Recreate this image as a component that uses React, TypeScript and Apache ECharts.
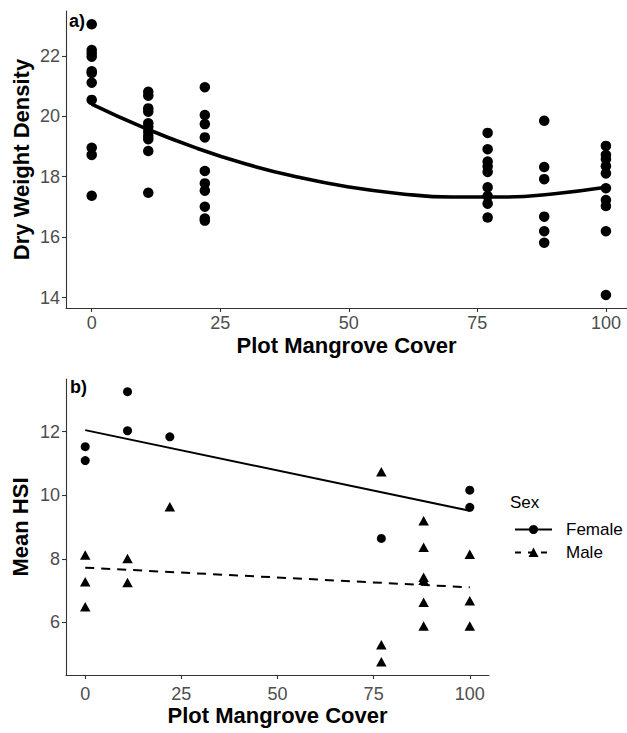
import React, { useEffect, useRef } from "react";
import * as echarts from "echarts";

// ---- data ----
const xTicks = [0, 25, 50, 75, 100];
const dwTicks = [14, 16, 18, 20, 22];
const hsiTicks = [6, 8, 10, 12];

const coverLevels = [0, 11, 22, 77, 88, 100];
const dw0 = [23.04, 22.19, 22.08, 21.97, 21.49, 21.43, 21.11, 20.54, 18.96, 18.72, 17.37];
const dw11 = [20.81, 20.68, 20.26, 20.15, 19.77, 19.65, 19.49, 19.35, 19.24, 18.85, 17.47];
const dw22 = [20.96, 20.04, 19.74, 19.3, 18.19, 17.78, 17.54, 17.01, 16.62, 16.55];
const dw77 = [19.45, 18.91, 18.5, 18.34, 18.16, 17.65, 17.36, 17.11, 16.65];
const dw88 = [19.85, 18.32, 17.92, 16.68, 16.2, 15.82];
const dw100 = [19.02, 18.72, 18.58, 18.35, 18.11, 17.62, 17.23, 17.03, 16.2, 14.09];

const dwCurveX = [0, 10, 20, 30, 40, 50, 60, 70, 80, 90, 100];
const dwCurveY = [20.4, 19.63, 18.97, 18.42, 17.99, 17.66, 17.44, 17.33, 17.33, 17.44, 17.65];

const femaleX = [0, 0, 11, 11, 22, 77, 100, 100];
const femaleY = [11.53, 11.09, 13.26, 12.03, 11.84, 8.64, 10.16, 9.62];
const maleX = [0, 0, 0, 11, 11, 22, 77, 77, 77, 88, 88, 88, 88, 88, 88, 100, 100, 100];
const maleY = [8.12, 7.28, 6.49, 8.01, 7.25, 9.64, 10.74, 5.29, 4.76, 9.2, 8.36, 7.42, 7.32, 6.63, 5.88, 8.14, 6.68, 5.88];

const femaleFitX = [0, 100];
const femaleFitY = [12.05, 9.51];
const maleFitX = [0, 100];
const maleFitY = [7.72, 7.1];

const FONT = "Liberation Sans, Arial, sans-serif";

const dwGroups = [dw0, dw11, dw22, dw77, dw88, dw100];
const dwPoints: number[][] = [];
dwGroups.forEach((g, i) => g.forEach((v) => dwPoints.push([coverLevels[i], v])));
const zip = (xs: number[], ys: number[]) => xs.map((x, i) => [x, ys[i]]);

function axisCommon(ticks: number[], margin: number) {
  return {
    type: "value" as const,
    splitLine: { show: false },
    axisLine: { show: true, onZero: false, lineStyle: { color: "#333", width: 1.1 } },
    axisTick: { show: true, length: 4, customValues: ticks, lineStyle: { color: "#333", width: 1.1 } },
    axisLabel: { customValues: ticks, color: "#4D4D4D", fontSize: 18, fontFamily: FONT, margin },
  };
}

const nameStyle = { fontSize: 22, fontWeight: "bold" as const, color: "#000", fontFamily: FONT };

export default function App() {
  const ref = useRef<HTMLDivElement>(null);
  useEffect(() => {
    if (!ref.current) return;
    const chart = echarts.init(ref.current, undefined, { renderer: "svg" });
    chart.setOption({
      animation: false,
      backgroundColor: "#fff",
      grid: [
        { left: 66, top: 11, width: 561, height: 297 },
        { left: 66, top: 379, width: 423, height: 296 },
      ],
      xAxis: [
        { ...axisCommon(xTicks, 6), gridIndex: 0, min: -5, max: 104.1, name: "Plot Mangrove Cover", nameLocation: "middle", nameGap: 26, nameTextStyle: nameStyle },
        { ...axisCommon(xTicks, 10), gridIndex: 1, min: -5, max: 105, name: "Plot Mangrove Cover", nameLocation: "middle", nameGap: 29, nameTextStyle: nameStyle },
      ],
      yAxis: [
        { ...axisCommon(dwTicks, 6), gridIndex: 0, min: 13.66, max: 23.48, name: "Dry Weight Density", nameLocation: "middle", nameGap: 34, nameMoveOverlap: false, nameTextStyle: nameStyle },
        { ...axisCommon(hsiTicks, 6), gridIndex: 1, min: 4.34, max: 13.66, name: "Mean HSI", nameLocation: "middle", nameGap: 35, nameMoveOverlap: false, nameTextStyle: nameStyle },
      ],
      series: [
        {
          type: "scatter", xAxisIndex: 0, yAxisIndex: 0, data: dwPoints,
          symbol: "circle", symbolSize: 10.5, itemStyle: { color: "#000", opacity: 1 }, z: 3,
        },
        {
          type: "line", xAxisIndex: 0, yAxisIndex: 0, data: zip(dwCurveX, dwCurveY),
          smooth: true, showSymbol: false, symbol: "none", lineStyle: { color: "#000", width: 3.6 }, z: 2,
        },
        {
          type: "scatter", xAxisIndex: 1, yAxisIndex: 1, data: zip(femaleX, femaleY),
          symbol: "circle", symbolSize: 9, itemStyle: { color: "#000", opacity: 1 }, z: 3,
        },
        {
          type: "scatter", xAxisIndex: 1, yAxisIndex: 1, data: zip(maleX, maleY),
          symbol: "triangle", symbolSize: [10.5, 9.5], itemStyle: { color: "#000", opacity: 1 }, z: 3,
        },
        {
          type: "line", xAxisIndex: 1, yAxisIndex: 1, data: zip(femaleFitX, femaleFitY),
          showSymbol: false, symbol: "none", lineStyle: { color: "#000", width: 2 }, z: 2,
        },
        {
          type: "line", xAxisIndex: 1, yAxisIndex: 1, data: zip(maleFitX, maleFitY),
          showSymbol: false, symbol: "none", lineStyle: { color: "#000", width: 2, type: [9, 7] }, z: 2,
        },
      ],
      graphic: [
        { type: "text", left: 69, top: 12, style: { text: "a)", font: `bold 18px ${FONT}`, fill: "#000" } },
        { type: "text", left: 70, top: 378, style: { text: "b)", font: `bold 18px ${FONT}`, fill: "#000" } },
        { type: "text", x: 510, y: 502, style: { text: "Sex", font: `17px ${FONT}`, fill: "#000", verticalAlign: "middle" } },
        { type: "line", shape: { x1: 515, y1: 529.5, x2: 552, y2: 529.5 }, style: { stroke: "#000", lineWidth: 2 } },
        { type: "circle", shape: { cx: 533.5, cy: 529.5, r: 4.5 }, style: { fill: "#000" } },
        { type: "text", x: 566, y: 529.5, style: { text: "Female", font: `17px ${FONT}`, fill: "#000", verticalAlign: "middle" } },
        { type: "line", shape: { x1: 515, y1: 552.5, x2: 552, y2: 552.5 }, style: { stroke: "#000", lineWidth: 2, lineDash: [6, 7] } },
        { type: "polygon", shape: { points: [[533.5, 547.5], [538.5, 557], [528.5, 557]] }, style: { fill: "#000" } },
        { type: "text", x: 566, y: 552.5, style: { text: "Male", font: `17px ${FONT}`, fill: "#000", verticalAlign: "middle" } },
      ],
    });
    return () => chart.dispose();
  }, []);
  return <div ref={ref} style={{ position: "fixed", left: 0, top: 0, width: 627, height: 733 }} />;
}
